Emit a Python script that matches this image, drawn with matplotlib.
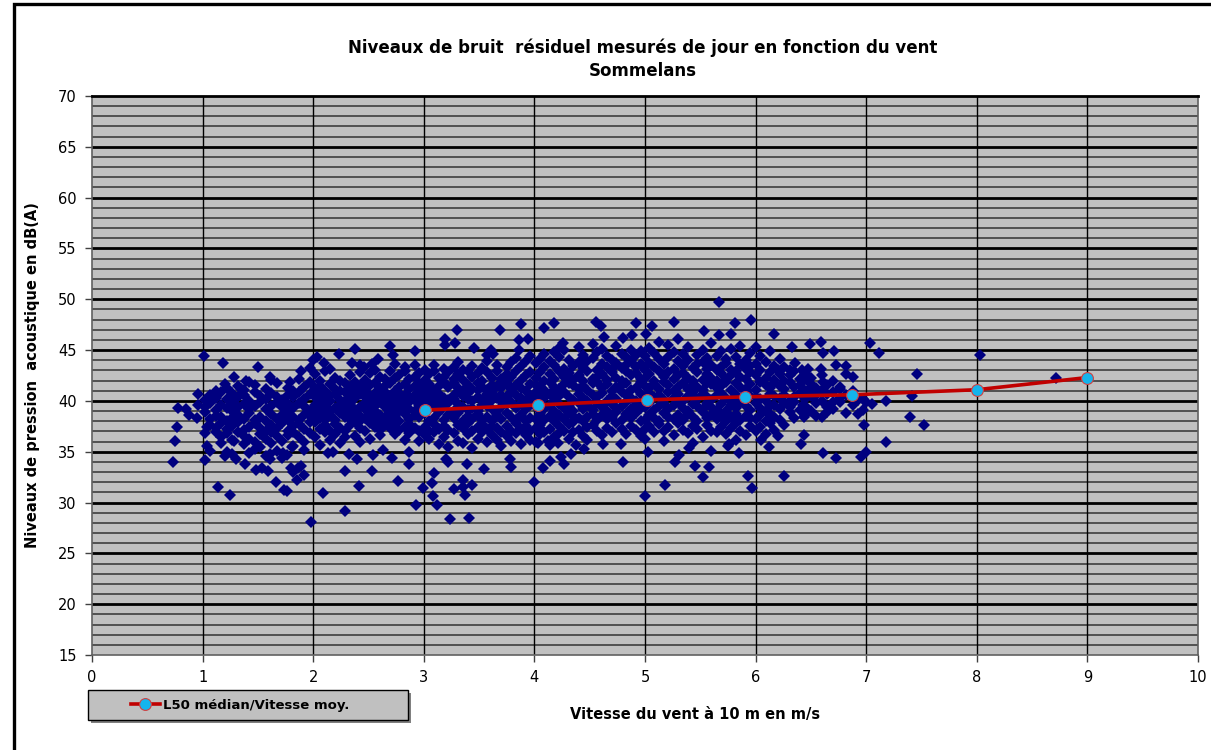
import matplotlib
matplotlib.use("Agg")
import matplotlib.pyplot as plt
from matplotlib.patches import Rectangle
from matplotlib.lines import Line2D

# courbe L50 médian par classe de vitesse
vitesse_med = [3.01, 4.03, 5.02, 5.90, 6.87, 8.00, 9.00]
l50_med = [39.1, 39.6, 40.1, 40.4, 40.6, 41.1, 42.3]

nuage_1_2 = [
    (1.02, [36.8, 38.9, 40.1, 39.4]),
    (1.07, [37.6, 39.8, 38.2, 40.6, 35.1]),
    (1.12, [38.5, 36.9, 40.3, 39.1, 37.3, 41.0]),
    (1.17, [39.6, 37.8, 35.9, 40.9, 38.4, 36.4]),
    (1.22, [38.0, 40.2, 36.8, 39.3, 41.3, 37.2, 35.0]),
    (1.27, [39.0, 37.5, 40.8, 38.3, 36.2, 39.9, 34.8]),
    (1.32, [40.4, 38.6, 36.9, 41.5, 37.9, 39.4]),
    (1.37, [37.1, 39.7, 38.2, 35.8, 40.6, 36.5, 41.1]),
    (1.42, [38.8, 40.0, 36.3, 39.2, 37.4, 34.9]),
    (1.47, [39.5, 37.8, 40.9, 38.1, 36.0, 41.6, 35.3]),
    (1.52, [38.4, 36.7, 39.9, 37.3, 40.5, 35.5]),
    (1.57, [37.0, 39.2, 38.0, 41.2, 36.3, 34.6, 40.2]),
    (1.62, [38.7, 40.8, 36.9, 39.5, 37.6, 35.9]),
    (1.67, [39.9, 38.2, 36.5, 40.4, 37.3, 41.8, 35.1]),
    (1.72, [37.8, 39.4, 38.6, 36.1, 40.1, 34.4]),
    (1.77, [38.9, 40.6, 37.0, 39.7, 36.6, 38.1, 41.3]),
    (1.82, [39.3, 37.5, 40.4, 38.4, 35.6, 41.0, 36.9]),
    (1.87, [38.1, 39.8, 36.4, 40.9, 37.7, 42.2]),
    (1.92, [40.2, 38.6, 37.2, 39.5, 41.4, 36.0, 35.2]),
    (1.97, [39.0, 40.7, 37.9, 38.5, 41.9, 36.8, 43.2]),
]

nuage_2_3 = [
    (2.02, [39.6, 41.3, 37.9, 40.4, 42.6, 38.7, 36.4, 39.1]),
    (2.06, [40.8, 38.3, 42.0, 39.9, 37.2, 41.5, 35.7, 39.3]),
    (2.11, [38.9, 41.0, 40.2, 37.6, 42.9, 39.5, 36.9, 38.1]),
    (2.15, [40.5, 39.0, 41.7, 37.0, 38.6, 43.1, 40.0, 36.2]),
    (2.20, [39.3, 41.2, 38.1, 40.7, 36.7, 42.3, 37.7]),
    (2.24, [40.1, 38.8, 42.0, 39.6, 37.3, 41.0, 35.9]),
    (2.29, [38.4, 40.9, 39.2, 41.8, 37.0, 40.0, 36.4]),
    (2.33, [41.4, 39.7, 38.2, 40.6, 37.6, 42.5, 39.0]),
    (2.38, [39.1, 40.3, 37.9, 41.9, 38.6, 36.5, 40.9]),
    (2.42, [40.7, 38.5, 41.5, 39.4, 37.3, 42.8, 38.0, 36.0]),
    (2.47, [39.8, 41.1, 38.3, 40.4, 37.0, 42.1, 39.2]),
    (2.51, [38.7, 40.5, 41.6, 39.6, 37.8, 36.3, 40.0, 42.7]),
    (2.56, [40.2, 39.0, 41.8, 38.2, 37.4, 40.8, 43.0, 39.5]),
    (2.60, [41.3, 39.9, 38.6, 40.6, 37.1, 42.4, 38.0, 36.6]),
    (2.65, [39.4, 40.9, 42.2, 38.4, 41.5, 37.6, 39.8, 40.2]),
    (2.69, [40.5, 38.9, 41.8, 39.6, 37.3, 42.9, 40.0, 38.2]),
    (2.74, [39.1, 41.0, 40.4, 38.5, 42.3, 37.8, 39.7, 43.6, 36.7]),
    (2.78, [40.8, 39.5, 41.4, 38.0, 42.5, 37.1, 40.2, 39.0]),
    (2.83, [41.7, 40.0, 38.7, 42.9, 39.3, 37.4, 40.6, 43.3, 36.2]),
    (2.87, [39.9, 41.2, 40.4, 38.2, 42.2, 37.7, 39.2, 36.8]),
    (2.92, [40.6, 42.4, 39.0, 41.5, 38.6, 37.3, 43.5, 40.1]),
    (2.96, [41.0, 39.6, 42.7, 38.4, 40.3, 37.0, 41.8, 36.1]),
]

nuage_3_4 = [
    (3.01, [40.5, 38.8, 42.1, 39.5, 41.3, 37.4, 43.0, 36.6, 40.0]),
    (3.05, [39.2, 41.7, 40.8, 38.0, 42.6, 37.0, 39.9, 36.3]),
    (3.09, [41.1, 39.6, 38.3, 42.9, 40.4, 37.7, 43.5, 36.9]),
    (3.14, [40.0, 42.3, 38.9, 41.5, 39.3, 37.2, 35.8, 40.7]),
    (3.18, [39.5, 41.9, 40.3, 38.1, 43.1, 37.5, 42.4, 36.4]),
    (3.22, [41.4, 40.1, 38.6, 42.8, 39.8, 37.1, 35.5]),
    (3.27, [40.6, 39.0, 41.8, 43.3, 38.3, 36.8, 42.2, 40.2]),
    (3.31, [39.7, 42.6, 40.9, 38.8, 41.3, 37.6, 36.1, 43.8]),
    (3.35, [41.0, 39.4, 42.1, 38.0, 40.5, 37.3, 43.0, 35.9]),
    (3.40, [40.2, 41.6, 39.1, 42.9, 38.5, 36.7, 40.8, 37.8]),
    (3.44, [39.3, 42.4, 41.2, 40.0, 38.2, 43.4, 37.0, 35.4]),
    (3.49, [41.8, 40.4, 39.0, 42.7, 38.7, 37.4, 41.1, 36.3]),
    (3.53, [40.1, 42.0, 39.6, 41.4, 38.1, 43.2, 36.9, 37.7]),
    (3.57, [39.5, 41.1, 40.7, 42.8, 38.4, 37.2, 43.9, 36.0]),
    (3.62, [40.9, 39.2, 42.3, 41.6, 38.0, 36.6, 40.1, 37.5]),
    (3.66, [41.5, 40.3, 39.0, 42.9, 38.6, 37.3, 43.5, 36.2]),
    (3.70, [40.0, 42.2, 39.4, 41.3, 38.2, 36.9, 40.6, 35.6]),
    (3.75, [41.8, 40.5, 38.8, 42.6, 39.7, 37.5, 43.3, 36.5]),
    (3.79, [39.9, 41.2, 42.4, 38.4, 40.8, 37.0, 36.1, 43.8]),
    (3.83, [40.6, 42.9, 39.3, 41.6, 38.1, 37.8, 44.2, 36.8]),
    (3.88, [41.3, 39.8, 42.1, 40.3, 38.6, 37.2, 43.4, 35.8]),
    (3.92, [40.1, 42.5, 41.0, 39.2, 38.0, 36.6, 43.9, 37.5]),
    (3.96, [41.7, 40.4, 39.6, 42.8, 38.3, 37.0, 44.4, 36.2]),
]

nuage_4_5 = [
    (4.01, [40.9, 42.3, 39.4, 41.6, 38.2, 43.7, 37.3, 36.0, 40.2]),
    (4.05, [41.4, 39.9, 42.8, 38.7, 40.6, 37.6, 44.1, 36.7]),
    (4.09, [40.3, 42.0, 41.1, 39.2, 43.3, 38.1, 36.9, 44.6]),
    (4.14, [41.9, 40.7, 39.6, 42.6, 38.5, 37.2, 43.9, 35.7]),
    (4.18, [40.0, 42.2, 41.4, 39.0, 43.5, 38.0, 36.4, 40.8]),
    (4.22, [41.2, 39.7, 42.9, 40.5, 38.6, 37.5, 44.3, 36.8]),
    (4.27, [42.4, 40.9, 39.3, 41.7, 38.2, 43.1, 37.0, 45.0]),
    (4.31, [40.4, 41.8, 42.7, 39.5, 38.8, 37.7, 44.0, 36.3]),
    (4.35, [41.6, 40.1, 43.4, 39.0, 42.1, 37.9, 38.5, 36.9]),
    (4.40, [40.7, 42.5, 41.2, 39.8, 43.8, 38.3, 37.1, 45.3]),
    (4.44, [42.0, 40.3, 41.5, 39.2, 43.2, 38.0, 36.5, 44.5]),
    (4.48, [41.1, 42.9, 40.0, 39.6, 38.4, 43.9, 37.4, 36.2]),
    (4.53, [40.6, 42.2, 41.8, 39.1, 44.2, 38.7, 37.6, 45.6]),
    (4.57, [41.9, 40.4, 43.0, 39.8, 42.4, 38.1, 37.0, 44.8]),
    (4.61, [40.8, 42.6, 41.3, 39.4, 43.6, 38.6, 36.6, 45.1]),
    (4.66, [42.1, 40.0, 41.7, 43.3, 39.0, 38.2, 37.3, 44.4]),
    (4.70, [41.0, 42.8, 40.5, 39.7, 44.0, 38.4, 36.9, 43.1]),
    (4.74, [42.3, 41.4, 40.2, 43.7, 39.3, 37.8, 38.9, 45.4]),
    (4.79, [40.9, 42.0, 41.6, 39.5, 43.2, 38.1, 37.2, 44.6]),
    (4.83, [41.8, 40.6, 42.9, 39.9, 44.3, 38.7, 36.7, 43.5]),
    (4.87, [42.5, 41.1, 40.3, 43.9, 39.2, 38.3, 37.5, 45.0]),
    (4.92, [41.3, 42.7, 40.0, 39.6, 44.5, 38.8, 37.1, 43.3]),
    (4.96, [40.7, 42.2, 41.9, 43.6, 39.3, 38.0, 36.5, 44.9]),
]

nuage_5_6 = [
    (5.00, [41.5, 40.2, 43.0, 39.4, 42.3, 38.1, 44.4, 37.2, 36.3]),
    (5.04, [40.8, 42.6, 41.3, 39.8, 43.7, 38.6, 37.5, 45.2]),
    (5.08, [42.0, 40.4, 41.7, 43.3, 39.1, 38.3, 36.9, 44.7]),
    (5.13, [41.2, 42.9, 40.6, 39.5, 44.1, 38.0, 37.7, 45.8]),
    (5.17, [40.1, 42.4, 41.9, 43.6, 39.7, 38.8, 37.0, 36.1]),
    (5.21, [41.6, 40.9, 42.8, 39.2, 44.3, 38.4, 37.4, 45.5]),
    (5.26, [42.2, 41.0, 40.3, 43.1, 39.6, 38.2, 36.6, 44.8]),
    (5.30, [40.7, 42.5, 41.4, 39.9, 43.9, 38.6, 37.8, 46.1]),
    (5.34, [41.8, 40.0, 42.7, 43.4, 39.3, 38.1, 37.1, 44.6]),
    (5.39, [42.3, 41.2, 40.5, 39.0, 44.0, 38.7, 36.8, 45.3]),
    (5.43, [40.9, 42.0, 41.6, 43.2, 39.7, 38.4, 37.5, 35.9]),
    (5.47, [41.4, 42.8, 40.2, 39.5, 44.5, 38.0, 37.2, 43.6]),
    (5.52, [42.1, 40.7, 41.1, 43.8, 39.2, 38.9, 36.4, 45.0]),
    (5.56, [40.4, 42.6, 41.8, 39.8, 43.1, 38.3, 37.6, 44.2]),
    (5.60, [41.7, 40.1, 42.3, 43.5, 39.4, 38.6, 37.0, 45.7]),
    (5.65, [42.0, 41.3, 40.6, 39.1, 44.4, 38.2, 36.9, 43.0]),
    (5.69, [40.8, 42.7, 41.5, 39.7, 43.3, 38.5, 37.4, 44.9]),
    (5.73, [41.9, 40.3, 42.2, 39.0, 44.1, 38.0, 36.7, 43.7]),
    (5.78, [41.1, 42.5, 40.0, 39.6, 43.0, 38.4, 37.3, 45.1]),
    (5.82, [40.6, 41.8, 42.9, 39.3, 44.3, 38.7, 37.8, 36.2]),
    (5.86, [41.4, 40.2, 42.4, 43.6, 39.8, 38.1, 37.0, 45.4]),
    (5.91, [42.2, 40.9, 41.2, 39.5, 44.0, 38.5, 36.6, 43.1]),
    (5.95, [40.5, 41.7, 42.8, 39.1, 43.4, 38.3, 37.5, 44.7]),
]

nuage_6_7 = [
    (6.00, [41.1, 42.5, 39.8, 40.4, 43.6, 38.2, 37.0, 45.3]),
    (6.04, [40.2, 41.9, 43.0, 39.3, 38.6, 44.4, 37.4]),
    (6.09, [41.6, 40.0, 42.3, 39.0, 43.8, 38.0, 36.7]),
    (6.13, [40.7, 42.8, 41.3, 38.7, 44.9, 37.8, 39.5]),
    (6.17, [41.8, 39.6, 42.1, 40.5, 38.4, 43.4, 37.1]),
    (6.22, [40.3, 41.5, 42.6, 39.2, 38.1, 44.1]),
    (6.26, [41.2, 39.8, 43.3, 40.6, 37.6, 42.0]),
    (6.31, [40.0, 41.9, 42.5, 38.9, 39.4]),
    (6.35, [41.4, 40.4, 38.3, 42.9, 39.9]),
    (6.40, [40.8, 42.2, 39.1, 41.6]),
    (6.45, [41.0, 39.5, 42.7, 40.2, 38.6]),
    (6.50, [40.5, 41.7, 39.0, 42.3]),
    (6.55, [41.3, 39.8, 40.9, 38.5]),
    (6.60, [40.0, 42.5, 41.1]),
    (6.65, [39.4, 41.6, 40.7, 38.9]),
    (6.70, [40.9, 42.0, 39.2]),
    (6.76, [41.2, 39.9, 40.3]),
    (6.82, [40.6, 42.6, 38.8]),
    (6.88, [41.0, 39.6]),
    (6.93, [40.1, 38.7]),
]

# points isolés autour du nuage
isoles = [
    (0.73, 34.0), (0.75, 36.1), (0.77, 37.4), (0.78, 39.3), (0.85, 39.2), (0.96, 40.7),
    (0.96, 39.6), (0.95, 38.3), (0.88, 38.6),
    (1.01, 44.4), (1.18, 43.7), (1.50, 43.3), (1.28, 42.4), (1.39, 42.0), (1.42, 41.9),
    (1.61, 42.4), (1.62, 42.1), (1.79, 41.9), (1.89, 42.9), (1.20, 41.7), (1.35, 41.2),
    (1.04, 35.6), (1.02, 34.2), (1.04, 37.4), (1.14, 31.5), (1.25, 30.7), (1.20, 34.6),
    (1.28, 36.1), (1.30, 34.3), (1.38, 33.8), (1.48, 33.2), (1.54, 33.4), (1.59, 33.1),
    (1.66, 32.0), (1.74, 31.2), (1.76, 31.1), (1.80, 33.4), (1.82, 33.0), (1.86, 33.4),
    (1.89, 33.6), (1.85, 32.2), (1.92, 32.7), (1.73, 34.9), (1.76, 34.7), (1.61, 34.8),
    (1.61, 34.3), (1.81, 35.5),
    (1.98, 28.1), (2.09, 30.9), (2.29, 29.2), (2.41, 31.6), (2.29, 33.1), (2.53, 33.1),
    (2.00, 44.0), (2.03, 44.3), (2.10, 43.7), (2.23, 44.6), (2.38, 45.1), (2.35, 43.7),
    (2.42, 43.5), (2.46, 43.3), (2.53, 43.6), (2.59, 44.1), (2.69, 45.4), (2.72, 44.5),
    (2.13, 34.9), (2.18, 35.0), (2.32, 34.8), (2.40, 34.3), (2.54, 34.7), (2.63, 35.2),
    (2.71, 34.4),
    (2.99, 31.4), (2.77, 32.1), (2.93, 29.8), (3.07, 31.9), (3.09, 32.9), (3.08, 30.6),
    (3.12, 29.8), (3.24, 28.4), (3.41, 28.5), (3.27, 31.3), (3.35, 32.2), (3.35, 31.5),
    (3.37, 30.7), (3.44, 31.7), (3.20, 34.3), (3.22, 34.0), (3.39, 33.8), (3.54, 33.3),
    (3.78, 34.3), (3.79, 33.5), (2.87, 35.0), (2.87, 33.8), (4.00, 32.0), (4.08, 33.4),
    (3.30, 47.0), (3.19, 46.1), (3.19, 45.5), (3.28, 45.7), (2.92, 44.9), (3.45, 45.2),
    (3.69, 47.0), (3.88, 47.6), (3.86, 46.0), (3.86, 45.0), (3.94, 46.1), (3.61, 45.0),
    (3.57, 44.5), (3.63, 44.6),
    (4.09, 47.2), (4.18, 47.7), (4.26, 45.7), (4.18, 44.8), (4.21, 45.1), (4.56, 47.8),
    (4.60, 47.4), (4.63, 46.3), (4.80, 46.2), (4.88, 46.5),
    (4.80, 34.0), (4.27, 33.8), (4.24, 34.5), (4.33, 34.8), (4.14, 34.1), (4.03, 35.9),
    (4.12, 36.1), (4.21, 35.9), (4.38, 35.7), (4.45, 35.3), (4.62, 35.8), (4.78, 35.8),
    (5.67, 49.7), (4.92, 47.7), (5.26, 47.8), (5.06, 47.4), (5.01, 46.6), (5.53, 46.9),
    (5.67, 46.5), (5.81, 47.7), (5.78, 46.6), (5.96, 48.0), (6.17, 46.6),
    (6.33, 45.3), (6.49, 45.6), (6.59, 45.8), (6.71, 44.9), (6.61, 44.7), (6.36, 43.7),
    (6.42, 43.0), (6.47, 43.1), (6.59, 43.1), (6.73, 43.5), (6.82, 43.4), (6.88, 42.4),
    (6.20, 43.0), (6.31, 43.0), (6.43, 42.0), (6.50, 41.4), (6.61, 41.9), (6.76, 41.4),
    (6.97, 40.2), (7.00, 39.9), (6.43, 39.6), (6.44, 38.4), (6.60, 38.4), (6.70, 39.9),
    (6.53, 40.4), (6.44, 36.6), (6.41, 35.8), (6.61, 34.9), (6.73, 34.4), (6.95, 34.5),
    (7.00, 35.0), (6.98, 37.6), (6.26, 32.6), (5.93, 32.6), (5.97, 31.4), (5.00, 30.6),
    (5.18, 31.7), (5.45, 33.6), (5.58, 33.5), (5.52, 32.5), (5.27, 34.0), (5.31, 34.7),
    (5.03, 35.0), (5.75, 35.6), (5.76, 35.8), (6.05, 36.2), (6.12, 35.5), (5.60, 35.1),
    (5.85, 34.9), (5.40, 35.4), (6.20, 36.5),
    (7.03, 45.7), (7.12, 44.7), (8.03, 44.5), (7.46, 42.6), (8.72, 42.3), (7.41, 40.5),
    (7.18, 40.0), (7.05, 39.7), (6.97, 39.1), (7.40, 38.4), (7.52, 37.6), (7.18, 36.0),
]

xs, ys = [], []
for tranche in (nuage_1_2, nuage_2_3, nuage_3_4, nuage_4_5, nuage_5_6, nuage_6_7):
    for v, niveaux in tranche:
        xs += [v] * len(niveaux)
        ys += niveaux
for v, n in isoles:
    xs.append(v)
    ys.append(n)

plt.rcParams['font.family'] = ['DejaVu Sans']

fig = plt.figure(figsize=(12.11, 7.5), dpi=100)
ax = fig.add_axes([92 / 1211, 1 - 655 / 750, (1198 - 92) / 1211, (655 - 96) / 750])
ax.set_facecolor('#C0C0C0')

# quadrillage
for y in range(16, 70):
    if y % 5 == 0:
        ax.axhline(y, color='black', lw=2.0, zorder=1)
    else:
        ax.axhline(y, color='#333333', lw=1.1, zorder=1)
for x in range(1, 10):
    ax.axvline(x, color='black', lw=1.0, zorder=1)

ax.plot(xs, ys, linestyle='none', marker='D', markersize=6.2,
        color='#000080', markeredgewidth=0, zorder=3)
ax.plot(vitesse_med, l50_med, color='#C00000', lw=2.6, marker='o', markersize=8.5,
        markerfacecolor='#14B4EC', markeredgecolor='#D04040', markeredgewidth=0.8, zorder=4)

ax.set_xlim(0, 10)
ax.set_ylim(15, 70)
ax.set_xticks(range(0, 11))
ax.set_yticks(range(15, 71, 5))
ax.tick_params(axis='both', direction='out', length=5, width=1, color='#404040',
               labelsize=10.5, pad=6)
for s in ['left', 'bottom', 'right']:
    ax.spines[s].set_color('#606060')
    ax.spines[s].set_linewidth(1.2)
ax.spines['top'].set_color('black')
ax.spines['top'].set_linewidth(2.0)

ax.set_ylabel('Niveaux de pression  acoustique en dB(A)', fontsize=10.5, fontweight='bold')
ax.yaxis.set_label_coords(-(92 - 40) / 1106, 0.5)

fig.text(643 / 1211, 1 - 59 / 750,
         'Niveaux de bruit  résiduel mesurés de jour en fonction du vent\nSommelans',
         ha='center', va='center', fontsize=12, fontweight='bold', linespacing=1.35)
fig.text(695 / 1211, 1 - 714 / 750, 'Vitesse du vent à 10 m en m/s',
         ha='center', va='center', fontsize=10.5, fontweight='bold')

# légende
fig.patches.append(Rectangle((91 / 1211, 1 - 723 / 750), 320 / 1211, 30 / 750,
                             transform=fig.transFigure, facecolor='#808080',
                             edgecolor='none', zorder=1))
fig.patches.append(Rectangle((88 / 1211, 1 - 720 / 750), 320 / 1211, 30 / 750,
                             transform=fig.transFigure, facecolor='#C0C0C0',
                             edgecolor='black', lw=1.0, zorder=2))
handle = Line2D([], [], color='#C00000', lw=2.6, marker='o', markersize=8.5,
                markerfacecolor='#14B4EC', markeredgecolor='#D04040', markeredgewidth=0.8)
fig.legend([handle], ['L50 médian/Vitesse moy.'], loc='center',
           bbox_to_anchor=(240 / 1211, 1 - 705 / 750), frameon=False,
           handlelength=2.2, handletextpad=0.2, prop={'weight': 'bold', 'size': 9.5})

# cadre du graphique
fig.patches.append(Rectangle((14 / 1211, -0.1), 1.2, 1.1 - 4 / 750,
                             transform=fig.transFigure, fill=False,
                             edgecolor='black', lw=2.4))

fig.savefig('out.png', dpi=100)
